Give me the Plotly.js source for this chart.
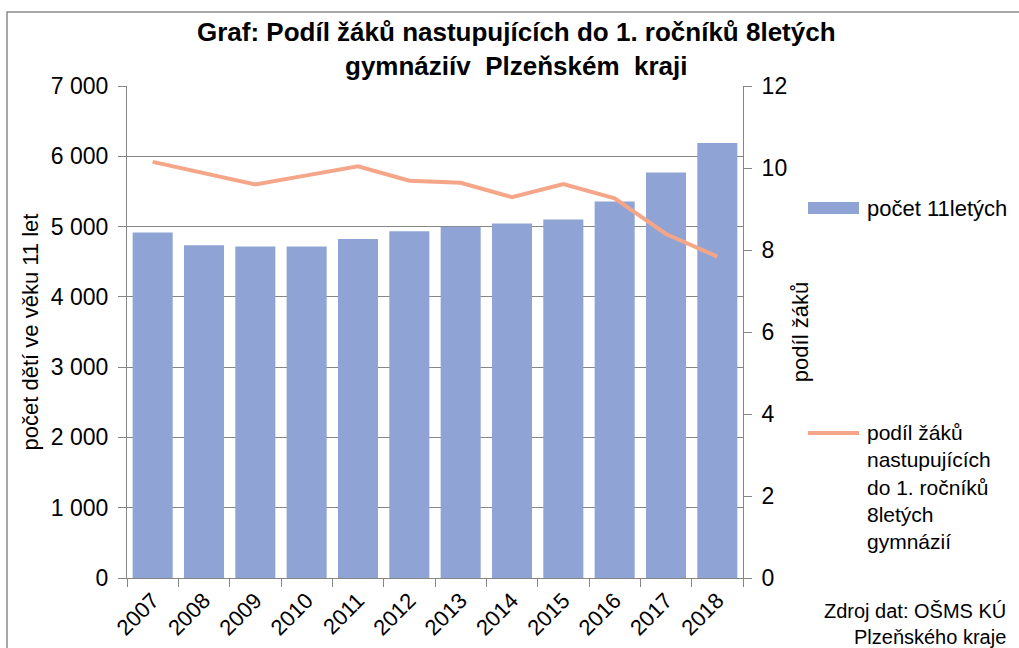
<!DOCTYPE html>
<html>
<head>
<meta charset="utf-8">
<script src="https://cdn.plot.ly/plotly-3.0.1.min.js"></script>
<style>html,body{margin:0;padding:0;background:#fff;}#chart{width:1019px;height:648px;}</style>
</head>
<body>
<div id="chart"></div>
<script>
const years = ['2007','2008','2009','2010','2011','2012','2013','2014','2015','2016','2017','2018'];
const pocet11letych = [4915, 4735, 4716, 4716, 4824, 4934, 4996, 5043, 5100, 5356, 5768, 6190];
const podilZaku = [10.15, 9.87, 9.60, 9.82, 10.04, 9.69, 9.64, 9.29, 9.61, 9.26, 8.39, 7.84];
const leftTicks = [0, 1000, 2000, 3000, 4000, 5000, 6000, 7000];
const leftTickLabels = ['0', '1 000', '2 000', '3 000', '4 000', '5 000', '6 000', '7 000'];
const rightTicks = [0, 2, 4, 6, 8, 10, 12];

const titleText = '<b>Graf: Podíl žáků nastupujících do 1. ročníků 8letých<br>gymnáziív  Plzeňském  kraji</b>';
const barName = 'počet 11letých';
const lineName = 'podíl žáků<br>nastupujících<br>do 1. ročníků<br>8letých<br>gymnázií';
const sourceText = 'Zdroj dat: OŠMS KÚ<br>Plzeňského kraje';

const FONT = 'Liberation Sans, Arial, sans-serif';
const BAR_COLOR = '#8FA3D4';
const LINE_COLOR = '#F5A688';

// plot area in pixels
const L = 127, R = 743, T = 86, B = 578;
const px = x => (x - L) / (R - L);
const py = y => (B - y) / (B - T);

const traces = [
  {type: 'bar', x: years, y: pocet11letych, name: barName, marker: {color: BAR_COLOR}, showlegend: false},
  {type: 'scatter', mode: 'lines', x: years, y: podilZaku, yaxis: 'y2', name: 'podíl žáků', line: {color: LINE_COLOR, width: 4}, showlegend: false}
];

const layout = {
  width: 1019, height: 648,
  margin: {l: L, r: 1019 - R, t: T, b: 648 - B, pad: 0},
  paper_bgcolor: '#fff', plot_bgcolor: '#fff',
  font: {family: FONT, color: '#000', size: 22},
  bargap: 0.22,
  xaxis: {
    type: 'category', tickangle: -45,
    tickfont: {family: FONT, size: 22},
    showline: true, linecolor: '#868686', linewidth: 1,
    ticks: 'outside', tickson: 'boundaries', ticklen: 8, tickcolor: '#868686',
    showgrid: false, fixedrange: true
  },
  yaxis: {
    range: [0, 7000], tickvals: leftTicks, ticktext: leftTickLabels,
    tickfont: {family: FONT, size: 23},
    showline: true, linecolor: '#868686', linewidth: 1,
    ticks: 'outside', ticklen: 8, tickcolor: '#868686',
    showgrid: true, gridcolor: '#868686', gridwidth: 1,
    zeroline: false, ticklabelstandoff: 5,
    title: {text: 'počet dětí ve věku 11 let', font: {family: FONT, size: 22}, standoff: 6}
  },
  yaxis2: {
    overlaying: 'y', side: 'right', range: [0, 12], tickvals: rightTicks,
    tickfont: {family: FONT, size: 23},
    showline: true, linecolor: '#868686', linewidth: 1,
    ticks: 'outside', ticklen: 8, tickcolor: '#868686',
    showgrid: false, zeroline: false, ticklabelstandoff: 5,
    title: {text: 'podíl žáků', font: {family: FONT, size: 22}, standoff: 6}
  },
  shapes: [
    {type: 'rect', xref: 'paper', yref: 'paper', x0: px(7), x1: px(1030), y0: py(660), y1: py(12),
     line: {color: '#8C8C8C', width: 1.5}, fillcolor: 'rgba(0,0,0,0)', layer: 'below'},
    {type: 'rect', xref: 'paper', yref: 'paper', x0: px(808), x1: px(859), y0: py(214), y1: py(202),
     line: {width: 0}, fillcolor: BAR_COLOR},
    {type: 'line', xref: 'paper', yref: 'paper', x0: px(808), x1: px(859), y0: py(433), y1: py(433),
     line: {color: LINE_COLOR, width: 4}}
  ],
  annotations: [
    {xref: 'paper', yref: 'paper', x: px(516), y: py(49), xanchor: 'center', yanchor: 'middle',
     text: titleText, showarrow: false, font: {family: FONT, size: 26, color: '#000'}},
    {xref: 'paper', yref: 'paper', x: px(865), y: py(208), xanchor: 'left', yanchor: 'middle',
     text: barName, showarrow: false, font: {family: FONT, size: 22}},
    {xref: 'paper', yref: 'paper', x: px(865), y: py(419), xanchor: 'left', yanchor: 'top', align: 'left',
     text: lineName, showarrow: false, font: {family: FONT, size: 21}},
    {xref: 'paper', yref: 'paper', x: px(1008), y: py(598), xanchor: 'right', yanchor: 'top', align: 'right',
     text: sourceText, showarrow: false, font: {family: FONT, size: 20}}
  ]
};

Plotly.newPlot('chart', traces, layout, {displayModeBar: false, staticPlot: true});
</script>
</body>
</html>
